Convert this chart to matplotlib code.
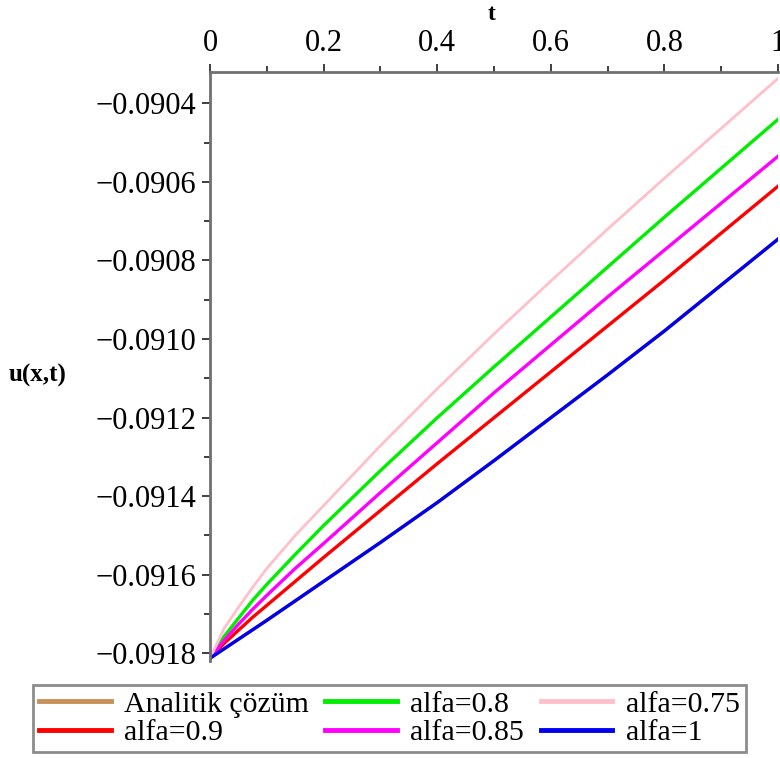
import numpy as np
import matplotlib
matplotlib.use('Agg')
import matplotlib.pyplot as plt
from matplotlib.ticker import MultipleLocator, FuncFormatter

plt.rcParams['font.family'] = ['Liberation Serif', 'DejaVu Serif']

# values
t = [0, 0.025, 0.05, 0.075, 0.1, 0.15, 0.2, 0.3, 0.4, 0.5, 0.6, 0.7, 0.8, 0.9, 1.0]
u_alfa_075 = [-0.091813, -0.0917368, -0.0916834, -0.0916326, -0.0915843, -0.0915004, -0.0914242,
              -0.0912717, -0.0911268, -0.0909871, -0.0908524, -0.0907202, -0.0905906, -0.0904636,
              -0.0903365]
u_alfa_08 = [-0.091813, -0.0917571, -0.0917113, -0.0916656, -0.0916249, -0.0915487, -0.091475,
             -0.0913352, -0.0912005, -0.091071, -0.0909439, -0.0908168, -0.0906897, -0.0905652,
             -0.0904407]
u_alfa_085 = [-0.091813, -0.0917673, -0.0917266, -0.0916885, -0.0916529, -0.0915843, -0.0915208,
              -0.0913911, -0.0912641, -0.091137, -0.091015, -0.090893, -0.0907736, -0.0906542,
              -0.0905347]
u_alfa_09 = [-0.091813, -0.0917749, -0.0917418, -0.0917088, -0.0916783, -0.0916173, -0.0915563,
             -0.0914369, -0.0913175, -0.0912005, -0.0910836, -0.0909667, -0.0908498, -0.0907304,
             -0.090611]
u_alfa_1 = [-0.091813, -0.0917888, -0.0917647, -0.0917406, -0.0917164, -0.0916669, -0.0916173,
            -0.0915182, -0.0914166, -0.0913098, -0.0912005, -0.0910913, -0.0909795, -0.0908626,
            -0.0907457]
u_analitik = u_alfa_1  # hidden under alfa=1 in the reference

x_ticks = [0, 0.2, 0.4, 0.6, 0.8, 1]
x_labels = ['0', '0.2', '0.4', '0.6', '0.8', '1']
y_ticks = [-0.0918, -0.0916, -0.0914, -0.0912, -0.0910, -0.0908, -0.0906, -0.0904]

fig = plt.figure(figsize=(7.8, 7.58), dpi=100)
ax = fig.add_axes([210 / 780, 1 - 661 / 758, 568 / 780, 589 / 758])

l_an, = ax.plot(t, u_analitik, color='#c8915a', lw=2.4, label='Analitik çözüm')
l_09, = ax.plot(t, u_alfa_09, color='#ff0000', lw=2.4, label='alfa=0.9')
l_08, = ax.plot(t, u_alfa_08, color='#00ee00', lw=2.4, label='alfa=0.8')
l_085, = ax.plot(t, u_alfa_085, color='#ff00ff', lw=2.4, label='alfa=0.85')
l_075, = ax.plot(t, u_alfa_075, color='#ffc0cb', lw=2.0, label='alfa=0.75')
l_1, = ax.plot(t, u_alfa_1, color='#0000ee', lw=2.4, label='alfa=1')

ax.set_xlim(0, 1)
ax.set_ylim(-0.09182, -0.09032)

for s in ['right', 'bottom']:
    ax.spines[s].set_visible(False)
for s in ['left', 'top']:
    ax.spines[s].set_color('#707070')
    ax.spines[s].set_linewidth(2)

ax.xaxis.tick_top()
ax.set_xticks(x_ticks)
ax.set_xticklabels(x_labels)
ax.xaxis.set_minor_locator(MultipleLocator(0.1))
ax.set_yticks(y_ticks)
ax.yaxis.set_major_formatter(FuncFormatter(lambda v, p: '\u2212%.4f' % abs(v)))
ax.yaxis.set_minor_locator(MultipleLocator(0.0001))
ax.tick_params(which='major', length=6, width=1.3, color='#303030', labelsize=22, pad=4)
ax.tick_params(which='minor', length=4, width=1.3, color='#303030')

fig.text(492 / 780, 1 - 15 / 758, 't', ha='center', va='center', fontsize=17, fontweight='bold')
fig.text(38 / 780, 1 - 375 / 758, 'u(x,t)', ha='center', va='center', fontsize=18, fontweight='bold')

leg = fig.legend([l_an, l_09, l_08, l_085, l_075, l_1],
                 ['Analitik çözüm', 'alfa=0.9', 'alfa=0.8', 'alfa=0.85', 'alfa=0.75', 'alfa=1'],
                 ncol=3, loc='lower left', bbox_to_anchor=(33 / 780, 1 - 752 / 758),
                 fontsize=21.5, frameon=True, fancybox=False, handlelength=2.4,
                 handletextpad=0.45, columnspacing=0.55, labelspacing=0.05, borderpad=0.2,
                 borderaxespad=0)
leg.get_frame().set_edgecolor('#707070')
leg.get_frame().set_linewidth(2)
for h in leg.get_lines():
    h.set_linewidth(3.5)

plt.savefig('out.png', dpi=100)
